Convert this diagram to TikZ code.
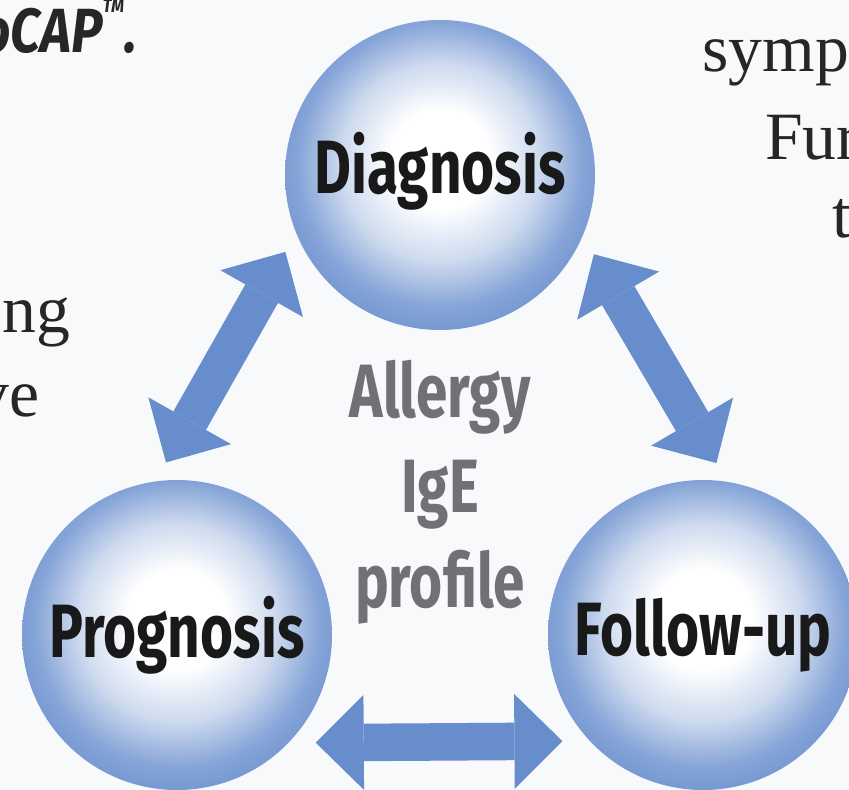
\documentclass[tikz,border=0pt]{standalone}
\usepackage{fontspec}
\setmainfont{Liberation Serif}
\newfontfamily\labelfont[FakeStretch=0.75]{Fira Sans}
\newfontfamily\brandfont[FakeStretch=0.85]{Fira Sans}
\usetikzlibrary{arrows.meta}

\definecolor{sphereblue}{RGB}{112,148,208}
\pgfdeclareradialshading{bluesphere}{\pgfpoint{0bp}{3bp}}{%
  color(0bp)=(white); color(8bp)=(white);
  color(16bp)=(sphereblue!35!white); color(23bp)=(sphereblue!85!white);
  color(28bp)=(sphereblue); color(50bp)=(sphereblue)}

\begin{document}
\begin{tikzpicture}[
    sphere/.style={circle, minimum size=6.2cm, inner sep=0pt, shade, shading=bluesphere,
      font=\labelfont\bfseries\fontsize{43}{50}\selectfont, text=black!90},
    twoway/.style={line width=0.75cm, draw=arrowblue,
      {Triangle[width=1.9cm,length=0.96cm,line width=0pt]}-{Triangle[width=1.9cm,length=0.96cm,line width=0pt]}},
    pagetext/.style={inner sep=0pt, font=\fontsize{38.5}{46}\selectfont, text=black!85}
  ]
    \definecolor{paper}{RGB}{248,249,250}
    \definecolor{arrowblue}{RGB}{103,141,204}
    \definecolor{coregray}{RGB}{112,113,118}

    \path[use as bounding box, fill=paper] (0,0) rectangle (16.98,-15.8);
    \clip (0,0) rectangle (16.98,-15.8);

    % text of the page round the figure
    \node[pagetext, anchor=base west, font=\brandfont\bfseries\itshape\fontsize{35.5}{40}\selectfont]
      (brand) at (-0.4,-1.06) {oCAP\raisebox{23pt}{\fontsize{11}{11}\selectfont TM}.};
    \node[pagetext, anchor=base west] (l1) at (0.05,-6.66) {ng};
    \node[pagetext, anchor=base east] (l2) at (0.8,-8.34) {ve};
    \node[pagetext, anchor=base west] (r1) at (14.04,-1.44) {symp};
    \node[pagetext, anchor=base west] (r2) at (15.3,-3.2) {Fur};
    \node[pagetext, anchor=base west] (r3) at (16.64,-4.76) {t};

    % the three spheres
    \node[sphere] (diag) at (8.8,-3.5) {\raisebox{0.5cm}{Diagnosis}};
    \node[sphere] (prog) at (3.54,-12.7) {Prognosis};
    \node[sphere] (foll) at (14.06,-12.7) {Follow-up};

    \node[align=center, text=coregray, font=\labelfont\bfseries\fontsize{43}{54}\selectfont]
      (core) at (8.8,-9.84) {Allergy\\IgE\\profile};

    % arrows between them
    \draw[twoway, shorten <=0.43cm, shorten >=0.43cm] (diag.202.5) -- (prog.98.5);
    \draw[twoway, shorten <=0.43cm, shorten >=0.43cm] (diag.337.5) -- (foll.81.5);
    \draw[twoway, shorten <=0.54cm, shorten >=0.54cm] (prog.316.3) -- (foll.223.7);
\end{tikzpicture}
\end{document}
